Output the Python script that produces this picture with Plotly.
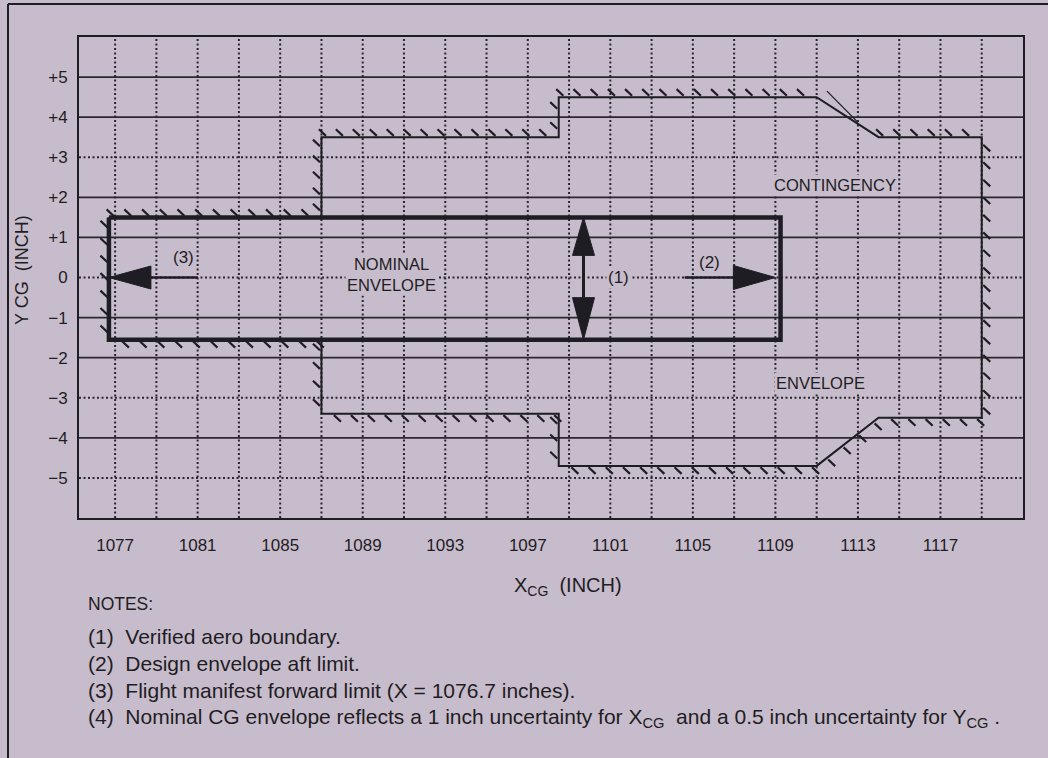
import math
import plotly.graph_objects as go

# ---------------- data ----------------
x_ticks = [1077, 1081, 1085, 1089, 1093, 1097, 1101, 1105, 1109, 1113, 1117]
x_grid = list(range(1077, 1120, 2))
y_ticks = [5, 4, 3, 2, 1, 0, -1, -2, -3, -4, -5]
y_tick_labels = ["+5", "+4", "+3", "+2", "+1", "0",
                 "\u22121", "\u22122", "\u22123", "\u22124", "\u22125"]
y_grid_solid = [5, 4, 2, 1, -1, -2, -4]
y_grid_dotted = [3, 0, -3, -5]

# nominal envelope (thick rectangle)
nominal_x = [1076.7, 1109.25, 1109.25, 1076.7, 1076.7]
nominal_y = [1.5, 1.5, -1.55, -1.55, 1.5]

# contingency envelope (thin outline, clockwise)
contingency_x = [1076.7, 1087, 1087, 1098.5, 1098.5, 1111, 1114, 1119,
                 1119, 1114, 1111, 1098.5, 1098.5, 1087, 1087, 1076.7, 1076.7]
contingency_y = [1.5, 1.5, 3.5, 3.5, 4.5, 4.5, 3.5, 3.5,
                 -3.5, -3.5, -4.7, -4.7, -3.4, -3.4, -1.55, -1.55, 1.5]
# which edges of the contingency outline carry hatch marks
contingency_hatched = [True, True, True, True, True, False, True, True,
                       True, True, True, True, True, True, True, True]

# extra stroke crossing the upper diagonal
extra_line_x = [1111.5, 1113.0]
extra_line_y = [4.65, 3.87]

# arrows: (3) forward limit, (2) aft limit, (1) aero boundary
arrow3_x = [1081.0, 1076.7]   # tail, tip
arrow2_x = [1104.6, 1109.0]   # tail, tip
arrow1_x = 1099.7
arrow1_y = [1.5, -1.55]       # top tip, bottom tip

notes = [
    "(1)  Verified aero boundary.",
    "(2)  Design envelope aft limit.",
    "(3)  Flight manifest forward limit (X = 1076.7 inches).",
    "(4)  Nominal CG envelope reflects a 1 inch uncertainty for X<sub>CG</sub>  and a 0.5 inch uncertainty for Y<sub>CG</sub> .",
]

# ---------------- layout constants ----------------
W, H = 1048, 758
PL, PR, PT, PB = 79, 1023, 37, 518
XR = [1075.25, 1121.0]
YR = [-6.0, 6.0]
XPX = (PR - PL) / (XR[1] - XR[0])   # px per inch (x)
YPX = (PB - PT) / (YR[1] - YR[0])   # px per inch (y)

BG = "#c7bccb"
INK = "#1f1d24"
GRID = "#2a272f"
FONT = "Liberation Sans, Arial, Helvetica, sans-serif"


def px_paper_x(px):
    return (px - PL) / (PR - PL)


def px_paper_y(py):
    return (PB - py) / (PB - PT)


fig = go.Figure()

# ---- gridlines (shapes in data coordinates) ----
shapes = []
for gx in x_grid:
    shapes.append(dict(type="line", xref="x", yref="y", x0=gx, x1=gx, y0=YR[0], y1=YR[1],
                       line=dict(color=GRID, width=2, dash="2px,2.5px"), layer="below"))
for gy in y_grid_solid:
    shapes.append(dict(type="line", xref="x", yref="y", x0=XR[0], x1=XR[1], y0=gy, y1=gy,
                       line=dict(color=GRID, width=1.6), layer="below"))
for gy in y_grid_dotted:
    shapes.append(dict(type="line", xref="x", yref="y", x0=XR[0], x1=XR[1], y0=gy, y1=gy,
                       line=dict(color=GRID, width=2, dash="2px,2.5px"), layer="below"))

# page frame (left and top lines of the scanned sheet)
shapes.append(dict(type="line", xref="paper", yref="paper",
                   x0=px_paper_x(8), x1=px_paper_x(8), y0=px_paper_y(760), y1=px_paper_y(4),
                   line=dict(color=INK, width=2)))
shapes.append(dict(type="line", xref="paper", yref="paper",
                   x0=px_paper_x(8), x1=px_paper_x(1060), y0=px_paper_y(4), y1=px_paper_y(4),
                   line=dict(color=INK, width=2)))

# ---- contingency outline ----
fig.add_trace(go.Scatter(x=contingency_x, y=contingency_y, mode="lines",
                         line=dict(color=INK, width=2), hoverinfo="skip", showlegend=False))

# ---- hatch marks along the contingency outline ----
TICK_W, TICK_H, GAP, SPACING = 8.5, 8.0, 2.0, 17.5
hx, hy = [], []
for i, hatched in enumerate(contingency_hatched):
    if not hatched:
        continue
    xa, ya = contingency_x[i], contingency_y[i]
    xb, yb = contingency_x[i + 1], contingency_y[i + 1]
    dxp, dyp = (xb - xa) * XPX, (yb - ya) * YPX
    L = math.hypot(dxp, dyp)
    if L == 0:
        continue
    nx, ny = -dyp / L, dxp / L          # left normal = outside (clockwise path)
    vx, vy = TICK_W, -TICK_H            # "\" stroke direction in px (y up)
    s = 1 if (vx * nx + vy * ny) > 0 else -1
    vn = math.hypot(vx, vy)
    n = max(1, int(round(L / SPACING)))
    for k in range(n):
        t = (k + 0.35) / n
        px0 = xa + (xb - xa) * t
        py0 = ya + (yb - ya) * t
        sx = px0 + s * vx / vn * GAP / XPX
        sy = py0 + s * vy / vn * GAP / YPX
        ex = px0 + s * vx / XPX
        ey = py0 + s * vy / YPX
        hx += [sx, ex, None]
        hy += [sy, ey, None]
fig.add_trace(go.Scatter(x=hx, y=hy, mode="lines", line=dict(color=INK, width=2.2),
                         hoverinfo="skip", showlegend=False))

fig.add_trace(go.Scatter(x=extra_line_x, y=extra_line_y, mode="lines",
                         line=dict(color=INK, width=1.3), hoverinfo="skip", showlegend=False))

# ---- nominal envelope ----
fig.add_trace(go.Scatter(x=nominal_x, y=nominal_y, mode="lines",
                         line=dict(color=INK, width=4.5), hoverinfo="skip", showlegend=False))


# ---- arrows ----
def head(tip_x, tip_y, ux, uy, length_px, half_px):
    """Filled triangle; (ux, uy) unit direction of the arrow in px (y up)."""
    bx = tip_x - ux * length_px / XPX
    by = tip_y - uy * length_px / YPX
    px_, py_ = -uy, ux
    xs = [tip_x, bx + px_ * half_px / XPX, bx - px_ * half_px / XPX, tip_x]
    ys = [tip_y, by + py_ * half_px / YPX, by - py_ * half_px / YPX, tip_y]
    return xs, ys, bx, by


def add_poly(xs, ys):
    fig.add_trace(go.Scatter(x=xs, y=ys, mode="lines", fill="toself", fillcolor=INK,
                             line=dict(color=INK, width=1), hoverinfo="skip", showlegend=False))


# (3) pointing left
xs, ys, bx, by = head(arrow3_x[1], 0, -1, 0, 42, 11.5)
fig.add_trace(go.Scatter(x=[arrow3_x[0], bx], y=[0, 0], mode="lines",
                         line=dict(color=INK, width=2.5), hoverinfo="skip", showlegend=False))
add_poly(xs, ys)

# (2) pointing right
xs, ys, bx, by = head(arrow2_x[1], 0, 1, 0, 42, 12)
fig.add_trace(go.Scatter(x=[arrow2_x[0], bx], y=[0, 0], mode="lines",
                         line=dict(color=INK, width=2.5), hoverinfo="skip", showlegend=False))
add_poly(xs, ys)

# (1) double vertical arrow
xs1, ys1, _, by1 = head(arrow1_x, arrow1_y[0], 0, 1, 38, 11)
xs2, ys2, _, by2 = head(arrow1_x, arrow1_y[1], 0, -1, 42, 11)
fig.add_trace(go.Scatter(x=[arrow1_x, arrow1_x], y=[by1, by2], mode="lines",
                         line=dict(color=INK, width=3), hoverinfo="skip", showlegend=False))
add_poly(xs1, ys1)
add_poly(xs2, ys2)

# ---- annotations ----
ann = []


def label(text, x, y, size=16.5, bg=True):
    ann.append(dict(text=text, x=x, y=y, xref="x", yref="y", showarrow=False,
                    xanchor="center", yanchor="middle",
                    font=dict(family=FONT, size=size, color=INK),
                    bgcolor=BG if bg else None, borderpad=1))


label("NOMINAL<br>ENVELOPE", 1090.4, 0.07)
label("CONTINGENCY", 1111.9, 2.32)
label("ENVELOPE", 1111.2, -2.64)
label("(1)", 1101.4, 0.0, size=17)
label("(2)", 1105.8, 0.38, size=17)
label("(3)", 1080.3, 0.5, size=17)

# axis titles
ann.append(dict(text="X<sub>CG</sub>  (INCH)", x=px_paper_x(568), y=px_paper_y(586),
                xref="paper", yref="paper", showarrow=False, xanchor="center", yanchor="middle",
                font=dict(family=FONT, size=20, color=INK)))
ann.append(dict(text="Y CG  (INCH)", x=px_paper_x(22), y=px_paper_y(270),
                xref="paper", yref="paper", showarrow=False, textangle=-90,
                xanchor="center", yanchor="middle",
                font=dict(family=FONT, size=18, color=INK)))

# notes
ann.append(dict(text="NOTES:", x=px_paper_x(86), y=px_paper_y(604), xref="paper", yref="paper",
                xanchor="left", yanchor="middle", showarrow=False,
                font=dict(family=FONT, size=17.5, color=INK)))
note_y = [636, 663, 690, 718]
for txt, yy in zip(notes, note_y):
    ann.append(dict(text=txt, x=px_paper_x(86), y=px_paper_y(yy), xref="paper", yref="paper",
                    xanchor="left", yanchor="middle", showarrow=False,
                    font=dict(family=FONT, size=21, color=INK)))

fig.update_layout(
    width=W, height=H,
    margin=dict(l=PL, r=W - PR, t=PT, b=H - PB),
    paper_bgcolor=BG, plot_bgcolor=BG,
    shapes=shapes, annotations=ann, showlegend=False,
    font=dict(family=FONT, color=INK),
)
fig.update_xaxes(range=XR, tickmode="array", tickvals=x_ticks, showgrid=False, zeroline=False,
                 showline=True, mirror=True, linecolor=INK, linewidth=2, ticks="",
                 tickfont=dict(family=FONT, size=17, color=INK), ticklabelstandoff=11)
fig.update_yaxes(range=YR, tickmode="array", tickvals=y_ticks, ticktext=y_tick_labels,
                 showgrid=False, zeroline=False, showline=True, mirror=True, linecolor=INK,
                 linewidth=2, ticks="", tickfont=dict(family=FONT, size=17, color=INK),
                 ticklabelstandoff=6)

fig.write_html(
    "out.html",
    config={"displayModeBar": False},
    post_script="document.body.style.margin='0';document.body.style.background='" + BG + "';",
)
